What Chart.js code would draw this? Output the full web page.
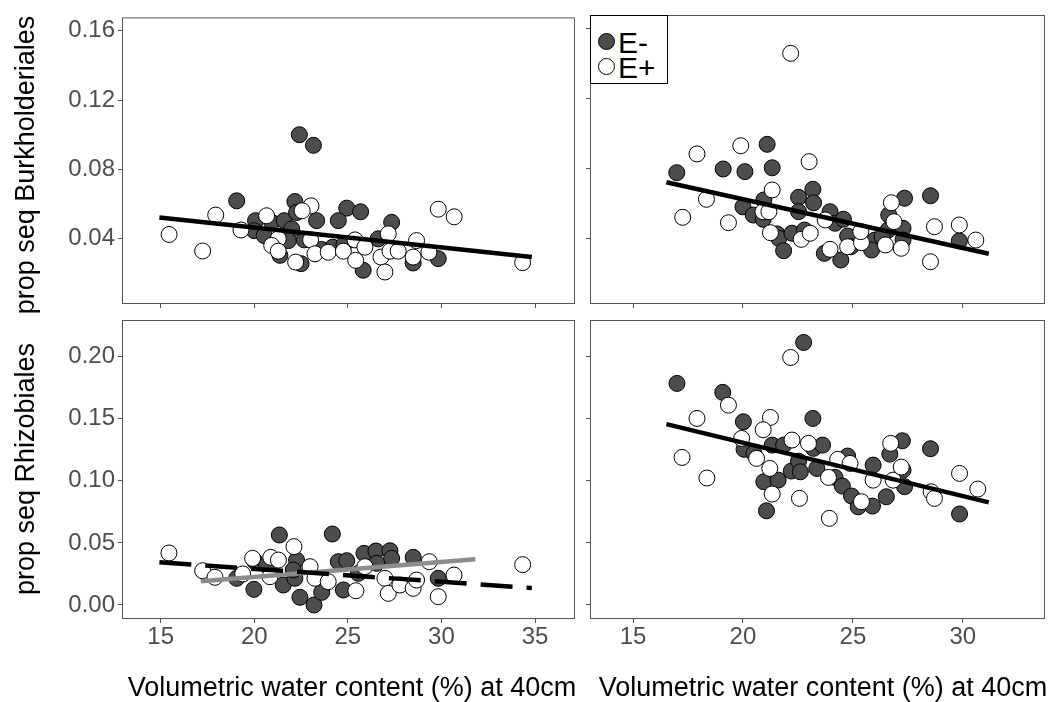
<!DOCTYPE html>
<html>
<head>
<meta charset="utf-8">
<title>prop seq vs volumetric water content</title>
<script src="https://cdn.jsdelivr.net/npm/chart.js@4.4.1/dist/chart.umd.min.js"></script>
<style>
  html, body { margin: 0; padding: 0; background: #fff; }
  body { position: relative; width: 1054px; height: 702px; overflow: hidden;
         font-family: "Liberation Sans", Arial, sans-serif; }
  canvas { position: absolute; left: 0; top: 0; }
  .ytitle, .xtitle { position: absolute; font-size: 27px; line-height: 27px; color: #000; white-space: nowrap; }
  .ytitle { transform: translate(-50%, -50%) rotate(-90deg); }
  .xtitle { width: 600px; text-align: center; }
  #legend { position: absolute; left: 590px; top: 15px; width: 78px; height: 69px;
            box-sizing: border-box; border: 1px solid #000; background: #fff; }
  .key { position: absolute; width: 17px; height: 17px; box-sizing: border-box;
         border: 1px solid #000; border-radius: 50%; }
  .keytxt { position: absolute; font-size: 30px; line-height: 30px; color: #000; }
</style>
</head>
<body>
<canvas id="tl" width="1054" height="702"></canvas>
<canvas id="tr" width="1054" height="702"></canvas>
<canvas id="bl" width="1054" height="702"></canvas>
<canvas id="br" width="1054" height="702"></canvas>

<div class="ytitle" style="left:25px; top:165px;">prop seq Burkholderiales</div>
<div class="ytitle" style="left:25px; top:469px;">prop seq Rhizobiales</div>
<div class="xtitle" style="left:52px; top:674px;">Volumetric water content (%) at 40cm</div>
<div class="xtitle" style="left:523px; top:674px;">Volumetric water content (%) at 40cm</div>

<div id="legend"></div>
<div class="key" style="left:598px; top:33px; background:#4d4d4d;"></div>
<div class="keytxt" style="left:618px; top:28px;">E-</div>
<div class="key" style="left:598px; top:58px; background:#fff;"></div>
<div class="keytxt" style="left:618px; top:53px;">E+</div>

<script>
// tick values
const xTicksLeft = [15, 20, 25, 30, 35];
const xTicksRight = [15, 20, 25, 30];
const yTicksTop = [0.04, 0.08, 0.12, 0.16];
const yTicksBottom = [0, 0.05, 0.10, 0.15, 0.20];

// Burkholderiales, left column
const blkLeftMinusX = [19.06, 22.17, 24.94, 25.68, 23.33, 24.49, 27.34, 20.07, 20.93, 21.60, 22.26, 20.00, 20.53, 22.00,
  21.82, 22.67, 23.60, 24.19, 24.79, 21.37, 22.50, 25.82, 26.62, 28.49, 29.83, 22.41, 23.16];
const blkLeftMinusY = [0.0619, 0.0615, 0.0577, 0.0556, 0.0505, 0.0505, 0.0495, 0.0505, 0.0495, 0.0505, 0.0552, 0.0447, 0.0419, 0.0457,
  0.0390, 0.0394, 0.0339, 0.0352, 0.0366, 0.0305, 0.0257, 0.0219, 0.0400, 0.0261, 0.0286, 0.1000, 0.0939];
const blkLeftPlusX = [15.45, 17.24, 17.94, 23.03, 22.56, 20.66, 19.29, 21.28, 20.93, 21.28, 22.21, 23.01, 23.24, 23.95, 24.76,
  25.38, 25.42, 25.91, 26.77, 27.16, 27.25, 27.69, 26.98, 28.67, 28.49, 29.33, 29.83, 30.68, 34.34];
const blkLeftPlusY = [0.0425, 0.0330, 0.0537, 0.0590, 0.0562, 0.0533, 0.0451, 0.0400, 0.0362, 0.0329, 0.0266, 0.0394, 0.0314, 0.0323, 0.0329,
  0.0394, 0.0276, 0.0352, 0.0295, 0.0429, 0.0329, 0.0329, 0.0209, 0.0390, 0.0295, 0.0323, 0.0571, 0.0527, 0.0263];

// Burkholderiales, right column
const blkRightMinusX = [16.99, 19.10, 20.09, 21.10, 21.33, 23.18, 22.53, 23.21, 22.53, 23.96, 24.19, 24.57, 27.35, 28.53, 26.63,
  26.60, 27.28, 27.28, 26.00, 20.00, 20.47, 20.95, 20.92, 21.55, 21.63, 22.23, 22.80, 21.85, 23.70, 24.45, 24.76, 24.91, 25.85, 26.33, 29.84];
const blkRightMinusY = [0.0775, 0.0796, 0.0781, 0.0937, 0.0803, 0.0680, 0.0634, 0.0603, 0.0552, 0.0552, 0.0486, 0.0509, 0.0629, 0.0643, 0.0533,
  0.0447, 0.0457, 0.0390, 0.0390, 0.0580, 0.0533, 0.0619, 0.0509, 0.0425, 0.0400, 0.0429, 0.0447, 0.0329, 0.0314, 0.0276, 0.0413, 0.0352, 0.0333, 0.0409, 0.0385];
const blkRightPlusX = [17.91, 19.90, 23.01, 21.33, 18.34, 17.26, 19.34, 20.91, 26.75, 26.87, 28.71, 29.84, 30.59, 28.53, 21.25,
  22.65, 23.06, 23.96, 24.76, 25.39, 25.36, 26.48, 27.20, 23.74, 21.18, 22.17];
const blkRightPlusY = [0.0882, 0.0929, 0.0838, 0.0676, 0.0623, 0.0520, 0.0489, 0.0552, 0.0603, 0.0495, 0.0466, 0.0476, 0.0390, 0.0266, 0.0432,
  0.0394, 0.0429, 0.0337, 0.0352, 0.0375, 0.0438, 0.0362, 0.0343, 0.0505, 0.0552, 0.1457];

// Rhizobiales, left column
const rhzLeftMinusX = [21.34, 24.17, 20.04, 20.66, 22.26, 24.49, 24.94, 25.86, 26.50, 27.25, 27.34, 28.49, 26.54, 19.06, 19.98,
  21.55, 22.17, 22.44, 23.19, 23.60, 24.76, 25.56, 29.83, 22.08];
const rhzLeftMinusY = [0.0564, 0.0572, 0.0349, 0.0322, 0.0362, 0.0349, 0.0357, 0.0416, 0.0435, 0.0437, 0.0376, 0.0384, 0.0336, 0.0215, 0.0126,
  0.0161, 0.0215, 0.0062, 0.0000, 0.0102, 0.0121, 0.0255, 0.0215, 0.0282];
const rhzLeftPlusX = [15.44, 17.24, 17.90, 19.38, 19.91, 20.88, 21.29, 22.12, 22.98, 20.84, 23.24, 23.95, 25.43, 25.91, 26.98,
  27.16, 27.78, 28.49, 28.67, 29.35, 29.83, 30.67, 34.34];
const rhzLeftPlusY = [0.0419, 0.0276, 0.0223, 0.0250, 0.0376, 0.0384, 0.0362, 0.0470, 0.0309, 0.0228, 0.0215, 0.0188, 0.0115, 0.0309, 0.0215,
  0.0094, 0.0161, 0.0134, 0.0201, 0.0349, 0.0067, 0.0241, 0.0325];

// Rhizobiales, right column
const rhzRightMinusX = [17.00, 19.08, 22.76, 23.18, 20.02, 27.25, 28.53, 29.85, 21.07, 20.05, 20.50, 21.33, 21.85, 20.95, 21.60, 22.20,
  22.53, 22.61, 23.21, 23.62, 23.36, 24.19, 24.52, 24.76, 24.94, 25.24, 25.89, 25.92, 26.52, 26.68, 27.28, 27.35];
const rhzRightMinusY = [0.1785, 0.1713, 0.2115, 0.1503, 0.1476, 0.1323, 0.1259, 0.0733, 0.0759, 0.1254, 0.1221, 0.1288, 0.1288, 0.0993, 0.1006, 0.1079,
  0.1159, 0.1073, 0.1262, 0.1288, 0.1100, 0.1028, 0.0958, 0.1200, 0.0878, 0.0791, 0.0797, 0.1127, 0.0872, 0.1216, 0.1087, 0.0953];
const rhzRightPlusX = [22.17, 17.91, 19.34, 17.23, 18.36, 21.25, 20.92, 19.94, 29.85, 30.68, 23.93, 22.57, 21.33, 21.22, 20.62, 22.23,
  22.98, 23.89, 24.31, 24.87, 25.92, 25.39, 26.72, 26.83, 27.20, 28.56, 28.71];
const rhzRightPlusY = [0.1994, 0.1503, 0.1610, 0.1189, 0.1023, 0.1511, 0.1412, 0.1342, 0.1060, 0.0934, 0.0698, 0.0859, 0.0894, 0.1100, 0.1181, 0.1329,
  0.1302, 0.1028, 0.1173, 0.1141, 0.1006, 0.0832, 0.1302, 0.1006, 0.1111, 0.0912, 0.0859];

// fitted lines (end points)
const fitBlkLeftX = [14.93, 34.83],  fitBlkLeftY = [0.0523, 0.0295];
const fitBlkRightX = [16.52, 31.18], fitBlkRightY = [0.0720, 0.0312];
const fitRhzLeftX = [14.93, 34.83],  fitRhzLeftY = [0.0344, 0.0137];
const fitRhzLeftGreyX = [17.14, 31.81], fitRhzLeftGreyY = [0.0191, 0.0368];
const fitRhzRightX = [16.52, 31.18], fitRhzRightY = [0.1457, 0.0827];

const W = 1054, H = 702;
const TICK_GREY = '#4d4d4d';
const FRAME = '#555555';

const zip = (xs, ys) => xs.map((x, i) => ({ x, y: ys[i] }));

// panel frame drawn round the plotting area
const panelBorder = {
  id: 'panelBorder',
  afterDraw(chart) {
    const a = chart.chartArea, ctx = chart.ctx;
    ctx.save();
    ctx.strokeStyle = FRAME;
    ctx.lineWidth = 1;
    ctx.strokeRect(a.left + 0.5, a.top + 0.5, a.right - a.left - 1, a.bottom - a.top - 1);
    ctx.restore();
  }
};

function pointSet(xs, ys, fill, order) {
  return { type: 'scatter', data: zip(xs, ys), backgroundColor: fill, borderColor: '#000',
           borderWidth: 1, pointRadius: 8, order };
}

function fitLine(xs, ys, color, dash) {
  return { type: 'line', data: zip(xs, ys), borderColor: color, borderWidth: 4.5, borderDash: dash || [],
           borderCapStyle: 'butt', pointRadius: 0, fill: false, tension: 0, order: 0 };
}

function panel(id, area, xRange, yRange, xTicks, yTicks, showX, showY, datasets) {
  const yW = showY ? area.left : 8;
  const xH = showX ? 40 : 8;
  new Chart(document.getElementById(id), {
    type: 'scatter',
    data: { datasets },
    options: {
      responsive: false,
      animation: false,
      events: [],
      layout: { padding: { left: area.left - yW, top: area.top, right: W - area.right, bottom: H - area.bottom - xH } },
      plugins: { legend: { display: false }, tooltip: { enabled: false } },
      scales: {
        x: {
          type: 'linear', min: xRange[0], max: xRange[1],
          afterBuildTicks: s => { s.ticks = xTicks.map(v => ({ value: v })); },
          afterFit: s => { s.height = xH; },
          grid: { drawOnChartArea: false, drawTicks: true, tickLength: 4, color: FRAME, tickColor: FRAME },
          border: { display: false },
          ticks: { display: showX, padding: 0, maxRotation: 0, autoSkip: false, color: TICK_GREY,
                   font: { family: '"Liberation Sans", Arial, sans-serif', size: 24 },
                   callback: v => String(v) }
        },
        y: {
          type: 'linear', min: yRange[0], max: yRange[1],
          afterBuildTicks: s => { s.ticks = yTicks.map(v => ({ value: v })); },
          afterFit: s => { s.width = yW; },
          grid: { drawOnChartArea: false, drawTicks: true, tickLength: 4, color: FRAME, tickColor: FRAME },
          border: { display: false },
          ticks: { display: showY, padding: 3, color: TICK_GREY,
                   font: { family: '"Liberation Sans", Arial, sans-serif', size: 24 },
                   callback: v => v.toFixed(2) }
        }
      }
    },
    plugins: [panelBorder]
  });
}

const xLeft = [12.932, 37.137], xRight = [13.044, 33.737];
const yTop = [0.00246, 0.1676], yBottom = [-0.01128, 0.2296];
const DARK = '#4d4d4d', LIGHT = '#ffffff';

panel('tl', { left: 122, top: 15, right: 575, bottom: 304 }, xLeft, yTop, xTicksLeft, yTicksTop, false, true, [
  pointSet(blkLeftMinusX, blkLeftMinusY, DARK, 2),
  pointSet(blkLeftPlusX, blkLeftPlusY, LIGHT, 1),
  fitLine(fitBlkLeftX, fitBlkLeftY, '#000')
]);

panel('tr', { left: 590, top: 15, right: 1048, bottom: 304 }, xRight, yTop, xTicksRight, yTicksTop, false, false, [
  pointSet(blkRightMinusX, blkRightMinusY, DARK, 2),
  pointSet(blkRightPlusX, blkRightPlusY, LIGHT, 1),
  fitLine(fitBlkRightX, fitBlkRightY, '#000')
]);

panel('bl', { left: 122, top: 320, right: 575, bottom: 619 }, xLeft, yBottom, xTicksLeft, yTicksBottom, true, true, [
  pointSet(rhzLeftMinusX, rhzLeftMinusY, DARK, 2),
  pointSet(rhzLeftPlusX, rhzLeftPlusY, LIGHT, 1),
  fitLine(fitRhzLeftX, fitRhzLeftY, '#000', [32, 14]),
  fitLine(fitRhzLeftGreyX, fitRhzLeftGreyY, '#8c8c8c')
]);

panel('br', { left: 590, top: 320, right: 1048, bottom: 619 }, xRight, yBottom, xTicksRight, yTicksBottom, true, false, [
  pointSet(rhzRightMinusX, rhzRightMinusY, DARK, 2),
  pointSet(rhzRightPlusX, rhzRightPlusY, LIGHT, 1),
  fitLine(fitRhzRightX, fitRhzRightY, '#000')
]);
</script>
</body>
</html>
